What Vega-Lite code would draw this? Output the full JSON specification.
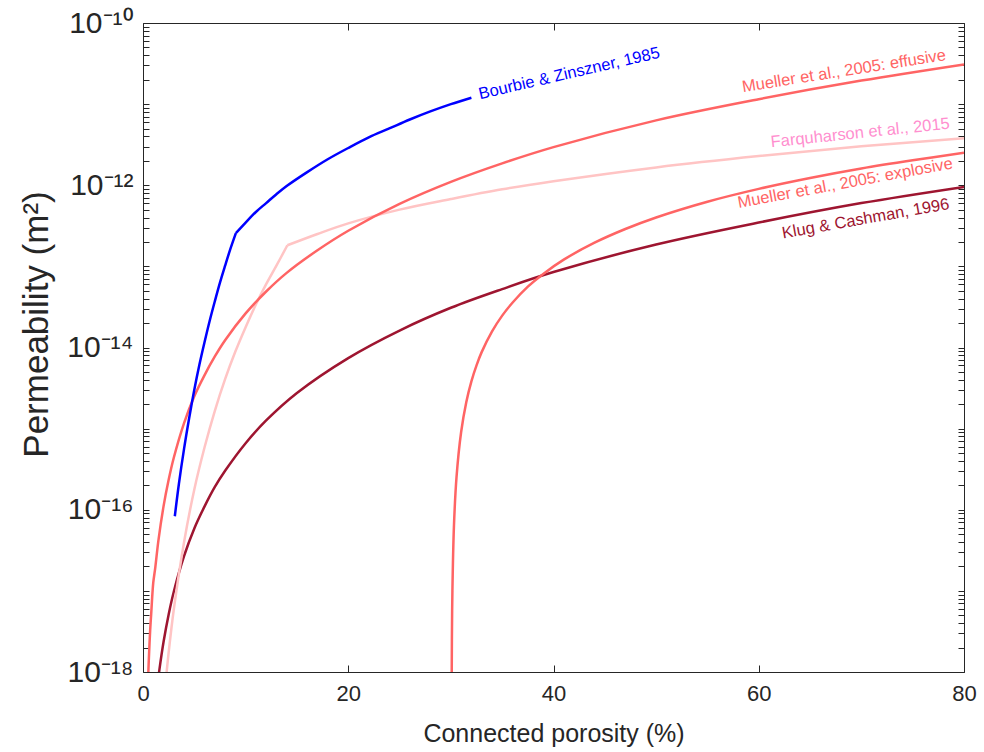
{
  "$schema": "https://vega.github.io/schema/vega-lite/v6.json",
  "width": 821,
  "height": 649,
  "autosize": {"type": "none"},
  "padding": {"left": 143, "top": 23, "right": 20, "bottom": 80},
  "background": "white",
  "config": {
    "view": {"stroke": "#262626", "strokeWidth": 1},
    "font": "Liberation Sans",
    "axis": {"grid": false, "domainColor": "#262626", "tickColor": "#262626", "labelColor": "#262626", "titleColor": "#262626", "labelOverlap": false, "labelFlush": false, "labelBound": false}
  },
  "datasets": {
    "curves": [
      {"series": "Bourbie", "segment": "low", "phi": 3.1, "k": 8.32e-17},
      {"series": "Bourbie", "segment": "low", "phi": 3.5, "k": 2.09e-16},
      {"series": "Bourbie", "segment": "low", "phi": 4, "k": 5.62e-16},
      {"series": "Bourbie", "segment": "low", "phi": 4.5, "k": 1.35e-15},
      {"series": "Bourbie", "segment": "low", "phi": 5, "k": 3.02e-15},
      {"series": "Bourbie", "segment": "low", "phi": 5.5, "k": 6.17e-15},
      {"series": "Bourbie", "segment": "low", "phi": 6, "k": 1.17e-14},
      {"series": "Bourbie", "segment": "low", "phi": 6.5, "k": 2.14e-14},
      {"series": "Bourbie", "segment": "low", "phi": 7, "k": 3.72e-14},
      {"series": "Bourbie", "segment": "low", "phi": 7.5, "k": 6.31e-14},
      {"series": "Bourbie", "segment": "low", "phi": 8, "k": 1.02e-13},
      {"series": "Bourbie", "segment": "low", "phi": 8.5, "k": 1.62e-13},
      {"series": "Bourbie", "segment": "low", "phi": 9.05, "k": 2.57e-13},
      {"series": "Bourbie", "segment": "high", "phi": 9.05, "k": 2.57e-13},
      {"series": "Bourbie", "segment": "high", "phi": 10, "k": 3.47e-13},
      {"series": "Bourbie", "segment": "high", "phi": 11, "k": 4.68e-13},
      {"series": "Bourbie", "segment": "high", "phi": 12, "k": 6.03e-13},
      {"series": "Bourbie", "segment": "high", "phi": 13, "k": 7.76e-13},
      {"series": "Bourbie", "segment": "high", "phi": 14, "k": 9.77e-13},
      {"series": "Bourbie", "segment": "high", "phi": 16, "k": 1.45e-12},
      {"series": "Bourbie", "segment": "high", "phi": 18, "k": 2.09e-12},
      {"series": "Bourbie", "segment": "high", "phi": 20, "k": 2.88e-12},
      {"series": "Bourbie", "segment": "high", "phi": 22, "k": 3.89e-12},
      {"series": "Bourbie", "segment": "high", "phi": 24, "k": 5.01e-12},
      {"series": "Bourbie", "segment": "high", "phi": 26, "k": 6.46e-12},
      {"series": "Bourbie", "segment": "high", "phi": 28, "k": 8.13e-12},
      {"series": "Bourbie", "segment": "high", "phi": 30, "k": 1.0e-11},
      {"series": "Bourbie", "segment": "high", "phi": 32, "k": 1.2e-11},

      {"series": "Effusive", "phi": 0.45, "k": 5.01e-19},
      {"series": "Effusive", "phi": 0.52, "k": 1.0e-18},
      {"series": "Effusive", "phi": 0.6, "k": 1.78e-18},
      {"series": "Effusive", "phi": 0.7, "k": 3.31e-18},
      {"series": "Effusive", "phi": 0.8, "k": 5.25e-18},
      {"series": "Effusive", "phi": 1.0, "k": 1.26e-17},
      {"series": "Effusive", "phi": 1.2, "k": 1.95e-17},
      {"series": "Effusive", "phi": 1.5, "k": 4.17e-17},
      {"series": "Effusive", "phi": 2, "k": 1.1e-16},
      {"series": "Effusive", "phi": 2.5, "k": 2.34e-16},
      {"series": "Effusive", "phi": 3, "k": 4.37e-16},
      {"series": "Effusive", "phi": 4, "k": 1.17e-15},
      {"series": "Effusive", "phi": 5, "k": 2.51e-15},
      {"series": "Effusive", "phi": 6, "k": 4.57e-15},
      {"series": "Effusive", "phi": 7, "k": 7.76e-15},
      {"series": "Effusive", "phi": 8, "k": 1.23e-14},
      {"series": "Effusive", "phi": 10, "k": 2.63e-14},
      {"series": "Effusive", "phi": 12, "k": 4.9e-14},
      {"series": "Effusive", "phi": 14, "k": 8.32e-14},
      {"series": "Effusive", "phi": 17, "k": 1.58e-13},
      {"series": "Effusive", "phi": 20, "k": 2.75e-13},
      {"series": "Effusive", "phi": 25, "k": 5.89e-13},
      {"series": "Effusive", "phi": 30, "k": 1.1e-12},
      {"series": "Effusive", "phi": 35, "k": 1.86e-12},
      {"series": "Effusive", "phi": 40, "k": 2.95e-12},
      {"series": "Effusive", "phi": 50, "k": 6.31e-12},
      {"series": "Effusive", "phi": 60, "k": 1.15e-11},
      {"series": "Effusive", "phi": 70, "k": 1.95e-11},
      {"series": "Effusive", "phi": 80, "k": 3.09e-11},

      {"series": "Farquharson", "segment": "low", "phi": 2.2, "k": 7.41e-19},
      {"series": "Farquharson", "segment": "low", "phi": 2.5, "k": 1.74e-18},
      {"series": "Farquharson", "segment": "low", "phi": 3, "k": 5.89e-18},
      {"series": "Farquharson", "segment": "low", "phi": 4, "k": 3.98e-17},
      {"series": "Farquharson", "segment": "low", "phi": 5, "k": 1.78e-16},
      {"series": "Farquharson", "segment": "low", "phi": 6, "k": 5.89e-16},
      {"series": "Farquharson", "segment": "low", "phi": 7, "k": 1.66e-15},
      {"series": "Farquharson", "segment": "low", "phi": 8, "k": 4.07e-15},
      {"series": "Farquharson", "segment": "low", "phi": 9, "k": 8.91e-15},
      {"series": "Farquharson", "segment": "low", "phi": 10, "k": 1.78e-14},
      {"series": "Farquharson", "segment": "low", "phi": 11, "k": 3.39e-14},
      {"series": "Farquharson", "segment": "low", "phi": 12, "k": 6.03e-14},
      {"series": "Farquharson", "segment": "low", "phi": 13, "k": 1.02e-13},
      {"series": "Farquharson", "segment": "low", "phi": 14.07, "k": 1.82e-13},
      {"series": "Farquharson", "segment": "high", "phi": 14.07, "k": 1.82e-13},
      {"series": "Farquharson", "segment": "high", "phi": 17, "k": 2.51e-13},
      {"series": "Farquharson", "segment": "high", "phi": 20, "k": 3.39e-13},
      {"series": "Farquharson", "segment": "high", "phi": 25, "k": 5.01e-13},
      {"series": "Farquharson", "segment": "high", "phi": 30, "k": 6.76e-13},
      {"series": "Farquharson", "segment": "high", "phi": 35, "k": 8.91e-13},
      {"series": "Farquharson", "segment": "high", "phi": 40, "k": 1.12e-12},
      {"series": "Farquharson", "segment": "high", "phi": 50, "k": 1.66e-12},
      {"series": "Farquharson", "segment": "high", "phi": 60, "k": 2.29e-12},
      {"series": "Farquharson", "segment": "high", "phi": 70, "k": 3.02e-12},
      {"series": "Farquharson", "segment": "high", "phi": 80, "k": 3.8e-12},

      {"series": "Explosive", "phi": 30.05, "k": 1.0e-19},
      {"series": "Explosive", "phi": 30.1, "k": 2.51e-18},
      {"series": "Explosive", "phi": 30.15, "k": 1.0e-17},
      {"series": "Explosive", "phi": 30.3, "k": 6.32e-17},
      {"series": "Explosive", "phi": 30.55, "k": 2.52e-16},
      {"series": "Explosive", "phi": 31, "k": 9.08e-16},
      {"series": "Explosive", "phi": 31.5, "k": 2.12e-15},
      {"series": "Explosive", "phi": 32, "k": 3.83e-15},
      {"series": "Explosive", "phi": 32.5, "k": 6.03e-15},
      {"series": "Explosive", "phi": 33, "k": 8.77e-15},
      {"series": "Explosive", "phi": 34, "k": 1.57e-14},
      {"series": "Explosive", "phi": 35, "k": 2.47e-14},
      {"series": "Explosive", "phi": 36, "k": 3.56e-14},
      {"series": "Explosive", "phi": 37.5, "k": 5.62e-14},
      {"series": "Explosive", "phi": 39, "k": 8.07e-14},
      {"series": "Explosive", "phi": 41, "k": 1.21e-13},
      {"series": "Explosive", "phi": 44, "k": 1.96e-13},
      {"series": "Explosive", "phi": 47, "k": 2.89e-13},
      {"series": "Explosive", "phi": 50, "k": 4.01e-13},
      {"series": "Explosive", "phi": 55, "k": 6.27e-13},
      {"series": "Explosive", "phi": 60, "k": 9.03e-13},
      {"series": "Explosive", "phi": 65, "k": 1.23e-12},
      {"series": "Explosive", "phi": 70, "k": 1.61e-12},
      {"series": "Explosive", "phi": 75, "k": 2.03e-12},
      {"series": "Explosive", "phi": 80, "k": 2.51e-12},

      {"series": "Klug", "phi": 1.5, "k": 8.51e-19},
      {"series": "Klug", "phi": 1.6, "k": 1.07e-18},
      {"series": "Klug", "phi": 2, "k": 2.34e-18},
      {"series": "Klug", "phi": 2.5, "k": 5.13e-18},
      {"series": "Klug", "phi": 3, "k": 9.77e-18},
      {"series": "Klug", "phi": 4, "k": 2.69e-17},
      {"series": "Klug", "phi": 5, "k": 5.89e-17},
      {"series": "Klug", "phi": 6, "k": 1.1e-16},
      {"series": "Klug", "phi": 7, "k": 1.91e-16},
      {"series": "Klug", "phi": 8, "k": 3.02e-16},
      {"series": "Klug", "phi": 10, "k": 6.61e-16},
      {"series": "Klug", "phi": 12, "k": 1.26e-15},
      {"series": "Klug", "phi": 15, "k": 2.75e-15},
      {"series": "Klug", "phi": 20, "k": 7.41e-15},
      {"series": "Klug", "phi": 25, "k": 1.62e-14},
      {"series": "Klug", "phi": 30, "k": 3.09e-14},
      {"series": "Klug", "phi": 35, "k": 5.25e-14},
      {"series": "Klug", "phi": 40, "k": 8.51e-14},
      {"series": "Klug", "phi": 50, "k": 1.86e-13},
      {"series": "Klug", "phi": 60, "k": 3.47e-13},
      {"series": "Klug", "phi": 70, "k": 6.03e-13},
      {"series": "Klug", "phi": 80, "k": 9.55e-13}
    ],
    "labels": [
      {"name": "Bourbie", "phi": 32.85, "k": 1.15e-11, "text": "Bourbie & Zinszner, 1985"},
      {"name": "Effusive", "phi": 78.3, "k": 3.5e-11, "text": "Mueller et al., 2005: effusive"},
      {"name": "Farquharson", "phi": 78.65, "k": 5.0e-12, "text": "Farquharson et al., 2015"},
      {"name": "Explosive", "phi": 78.97, "k": 1.62e-12, "text": "Mueller et al., 2005: explosive"},
      {"name": "Klug", "phi": 78.65, "k": 5.1e-13, "text": "Klug & Cashman, 1996"}
    ]
  },
  "resolve": {"axis": {"x": "independent", "y": "independent"}},
  "layer": [
    {
      "data": {"name": "curves"},
      "transform": [{"filter": "datum.series == 'Klug'"}],
      "mark": {"type": "line", "color": "#9E1530", "strokeWidth": 2.5, "clip": true, "interpolate": "catmull-rom"},
      "encoding": {
        "x": {"field": "phi", "type": "quantitative", "scale": {"domain": [0, 80], "nice": false},
          "axis": {"orient": "bottom", "values": [0, 20, 40, 60, 80], "tickSize": -7, "tickWidth": 1, "labelPadding": 18, "labelFont": "Liberation Sans", "labelFontSize": 22, "title": "Connected porosity (%)", "titleFont": "Liberation Sans", "titleFontSize": 25, "titleFontWeight": "normal", "titlePadding": 17, "domain": false}},
        "y": {"field": "k", "type": "quantitative", "scale": {"type": "log", "domain": [1e-18, 1e-10], "nice": false},
          "axis": {"orient": "left", "values": [1e-18,2e-18,3e-18,4e-18,5e-18,6e-18,7e-18,8e-18,9e-18,1e-17,2e-17,3e-17,4e-17,5e-17,6e-17,7e-17,8e-17,9e-17,1e-16,2e-16,3e-16,4e-16,5e-16,6e-16,7e-16,8e-16,9e-16,1e-15,2e-15,3e-15,4e-15,5e-15,6e-15,7e-15,8e-15,9e-15,1e-14,2e-14,3e-14,4e-14,5e-14,6e-14,7e-14,8e-14,9e-14,1e-13,2e-13,3e-13,4e-13,5e-13,6e-13,7e-13,8e-13,9e-13,1e-12,2e-12,3e-12,4e-12,5e-12,6e-12,7e-12,8e-12,9e-12,1e-11,2e-11,3e-11,4e-11,5e-11,6e-11,7e-11,8e-11,9e-11,1e-10],
            "labelExpr": "abs(datum.value/1e-10-1)<1e-6 ? '10⁻¹⁰' : abs(datum.value/1e-12-1)<1e-6 ? '10⁻¹²' : abs(datum.value/1e-14-1)<1e-6 ? '10⁻¹⁴' : abs(datum.value/1e-16-1)<1e-6 ? '10⁻¹⁶' : abs(datum.value/1e-18-1)<1e-6 ? '10⁻¹⁸' : ''",
            "tickSize": -6, "tickWidth": 1, "labelPadding": 16, "labelFontSize": 30, "labelBaseline": "middle",
            "title": "Permeability (m²)", "titleFontSize": 35, "titleFontWeight": "normal", "titlePadding": 12, "titleY": 301, "domain": false}}
      }
    },
    {
      "data": {"name": "curves"},
      "transform": [{"filter": "datum.series == 'Farquharson'"}],
      "mark": {"type": "line", "color": "#FFC4C4", "strokeWidth": 2.5, "clip": true, "interpolate": "catmull-rom"},
      "encoding": {
        "x": {"field": "phi", "type": "quantitative", "scale": {"domain": [0, 80], "nice": false},
          "axis": {"orient": "top", "values": [0, 20, 40, 60, 80], "tickSize": -7, "labels": false, "title": null, "domain": false}},
        "y": {"field": "k", "type": "quantitative", "scale": {"type": "log", "domain": [1e-18, 1e-10], "nice": false},
          "axis": {"orient": "right", "values": [1e-18,2e-18,3e-18,4e-18,5e-18,6e-18,7e-18,8e-18,9e-18,1e-17,2e-17,3e-17,4e-17,5e-17,6e-17,7e-17,8e-17,9e-17,1e-16,2e-16,3e-16,4e-16,5e-16,6e-16,7e-16,8e-16,9e-16,1e-15,2e-15,3e-15,4e-15,5e-15,6e-15,7e-15,8e-15,9e-15,1e-14,2e-14,3e-14,4e-14,5e-14,6e-14,7e-14,8e-14,9e-14,1e-13,2e-13,3e-13,4e-13,5e-13,6e-13,7e-13,8e-13,9e-13,1e-12,2e-12,3e-12,4e-12,5e-12,6e-12,7e-12,8e-12,9e-12,1e-11,2e-11,3e-11,4e-11,5e-11,6e-11,7e-11,8e-11,9e-11,1e-10],
            "tickSize": -6, "labels": false, "title": null, "domain": false}},
        "detail": {"field": "segment"}
      }
    },
    {
      "data": {"name": "curves"},
      "transform": [{"filter": "datum.series == 'Explosive'"}],
      "mark": {"type": "line", "color": "#FF6464", "strokeWidth": 2.5, "clip": true, "interpolate": "catmull-rom"},
      "encoding": {
        "x": {"field": "phi", "type": "quantitative", "axis": null},
        "y": {"field": "k", "type": "quantitative", "axis": null}
      }
    },
    {
      "data": {"name": "curves"},
      "transform": [{"filter": "datum.series == 'Effusive'"}],
      "mark": {"type": "line", "color": "#FF6464", "strokeWidth": 2.5, "clip": true, "interpolate": "catmull-rom"},
      "encoding": {
        "x": {"field": "phi", "type": "quantitative", "axis": null},
        "y": {"field": "k", "type": "quantitative", "axis": null}
      }
    },
    {
      "data": {"name": "curves"},
      "transform": [{"filter": "datum.series == 'Bourbie'"}],
      "mark": {"type": "line", "color": "#0000FF", "strokeWidth": 2.5, "clip": true, "interpolate": "catmull-rom"},
      "encoding": {
        "x": {"field": "phi", "type": "quantitative", "axis": null},
        "y": {"field": "k", "type": "quantitative", "axis": null},
        "detail": {"field": "segment"}
      }
    },
    {
      "data": {"name": "labels"},
      "transform": [{"filter": "datum.name == 'Bourbie'"}],
      "mark": {"type": "text", "color": "#0000FF", "fontSize": 16.5, "align": "left", "baseline": "alphabetic", "angle": -13},
      "encoding": {
        "x": {"field": "phi", "type": "quantitative", "axis": null},
        "y": {"field": "k", "type": "quantitative", "axis": null},
        "text": {"field": "text"}
      }
    },
    {
      "data": {"name": "labels"},
      "transform": [{"filter": "datum.name == 'Effusive'"}],
      "mark": {"type": "text", "color": "#FF6464", "fontSize": 16.5, "align": "right", "baseline": "alphabetic", "angle": -9},
      "encoding": {
        "x": {"field": "phi", "type": "quantitative", "axis": null},
        "y": {"field": "k", "type": "quantitative", "axis": null},
        "text": {"field": "text"}
      }
    },
    {
      "data": {"name": "labels"},
      "transform": [{"filter": "datum.name == 'Farquharson'"}],
      "mark": {"type": "text", "color": "#FF8FCF", "fontSize": 16.5, "align": "right", "baseline": "alphabetic", "angle": -6},
      "encoding": {
        "x": {"field": "phi", "type": "quantitative", "axis": null},
        "y": {"field": "k", "type": "quantitative", "axis": null},
        "text": {"field": "text"}
      }
    },
    {
      "data": {"name": "labels"},
      "transform": [{"filter": "datum.name == 'Explosive'"}],
      "mark": {"type": "text", "color": "#FF6464", "fontSize": 16.5, "align": "right", "baseline": "alphabetic", "angle": -10.5},
      "encoding": {
        "x": {"field": "phi", "type": "quantitative", "axis": null},
        "y": {"field": "k", "type": "quantitative", "axis": null},
        "text": {"field": "text"}
      }
    },
    {
      "data": {"name": "labels"},
      "transform": [{"filter": "datum.name == 'Klug'"}],
      "mark": {"type": "text", "color": "#9E1530", "fontSize": 16.5, "align": "right", "baseline": "alphabetic", "angle": -10},
      "encoding": {
        "x": {"field": "phi", "type": "quantitative", "axis": null},
        "y": {"field": "k", "type": "quantitative", "axis": null},
        "text": {"field": "text"}
      }
    }
  ]
}
